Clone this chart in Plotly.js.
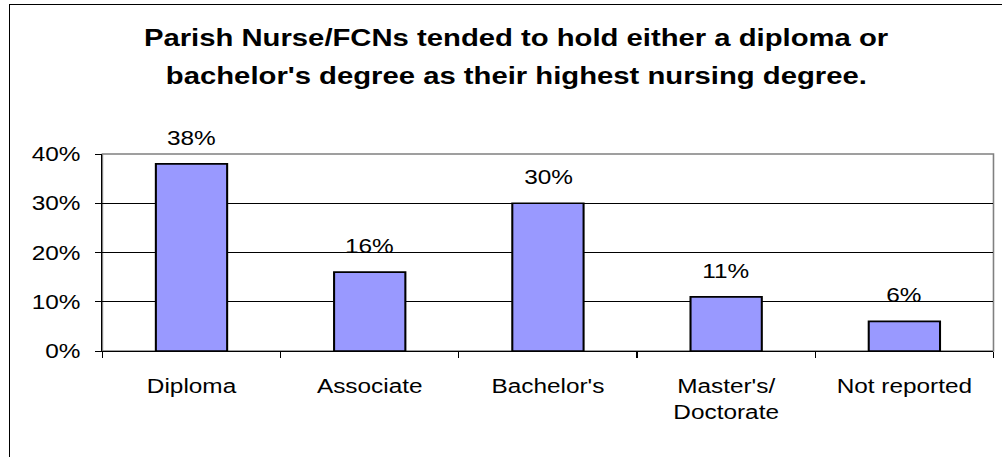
<!DOCTYPE html>
<html><head><meta charset="utf-8">
<script src="https://cdn.plot.ly/plotly-3.0.1.min.js"></script>
<style>
html,body{margin:0;padding:0;overflow:hidden;width:1002px;height:457px;background:#fff}
#frame{position:absolute;left:9px;top:4px;width:1200px;height:700px;border:1.5px solid #000;pointer-events:none;z-index:2}
#chart{position:absolute;left:0;top:0;width:822px;height:457px;transform:scaleX(1.219);transform-origin:0 0}
</style></head><body>
<div id="chart"></div><div id="frame"></div>
<script>
// ---- data ----
const categories = ["Diploma", "Associate", "Bachelor's", "Master's/<br>Doctorate", "Not reported"];
const percents = [0.38, 0.16, 0.30, 0.11, 0.06];
const valueLabels = ["38%", "16%", "30%", "11%", "6%"];
const yTickVals = [0, 0.1, 0.2, 0.3, 0.4];
const yTickText = ["0%", "10%", "20%", "30%", "40%"];
const titleLines = ["Parish Nurse/FCNs tended to hold either a diploma or",
                    "bachelor's degree as their highest nursing degree."];

// ---- geometry ----
const S = 1002 / 822;           // horizontal stretch of the original picture
const W = 822, H = 457;
const plotL = 103 / S, plotR = 993 / S, plotT = 154, plotB = 351;
const M = {l: plotL, r: W - plotR, t: plotT, b: H - plotB, pad: 0};
const pxX = x => (x / S - plotL) / (plotR - plotL);
const pxY = y => (plotB - y) / (plotB - plotT);

const FONT = '"Liberation Sans", Arial, sans-serif';

const annotations = [];
titleLines.forEach((t, i) => {
  annotations.push({
    text: t, xref: 'paper', yref: 'paper', x: pxX(516), y: pxY([37, 76][i]),
    xanchor: 'center', yanchor: 'middle', showarrow: false,
    font: {family: FONT, size: 24, color: '#000', weight: 'bold'}
  });
});
categories.forEach((c, i) => {
  annotations.push({
    text: valueLabels[i], x: c, y: percents[i], xref: 'x', yref: 'y',
    xanchor: 'center', yanchor: 'bottom', yshift: 13, showarrow: false,
    font: {family: FONT, size: 20, color: '#000'}
  });
});

const trace = {
  type: 'bar', x: categories, y: percents, width: 0.4,
  marker: {color: '#9999FF', line: {color: '#000', width: 1.7}},
  hoverinfo: 'skip'
};

const layout = {
  width: W, height: H, margin: M,
  paper_bgcolor: '#fff', plot_bgcolor: '#fff',
  showlegend: false,
  font: {family: FONT, size: 20, color: '#000'},
  xaxis: {
    type: 'category', tickson: 'boundaries', ticks: 'outside', ticklen: 6, tickwidth: 1,
    tickcolor: '#000', showline: true, linecolor: '#000', linewidth: 1,
    showgrid: false, zeroline: false, ticklabelstandoff: 17,
    tickfont: {family: FONT, size: 20, color: '#000'}
  },
  yaxis: {
    range: [0, 0.4], tickvals: yTickVals, ticktext: yTickText,
    ticks: 'outside', ticklen: 5, tickwidth: 1, tickcolor: '#000',
    showline: true, linecolor: '#000', linewidth: 1,
    showgrid: true, gridcolor: '#000', gridwidth: 1, zeroline: false,
    ticklabelstandoff: 8,
    tickfont: {family: FONT, size: 20, color: '#000'}
  },
  shapes: [{
    type: 'rect', xref: 'paper', yref: 'paper', x0: 0, x1: 1, y0: 0, y1: 1,
    line: {color: '#808080', width: 1.3}, layer: 'between'
  }],
  annotations: annotations
};

Plotly.newPlot('chart', [trace], layout, {staticPlot: true, displayModeBar: false});
</script>
</body></html>
